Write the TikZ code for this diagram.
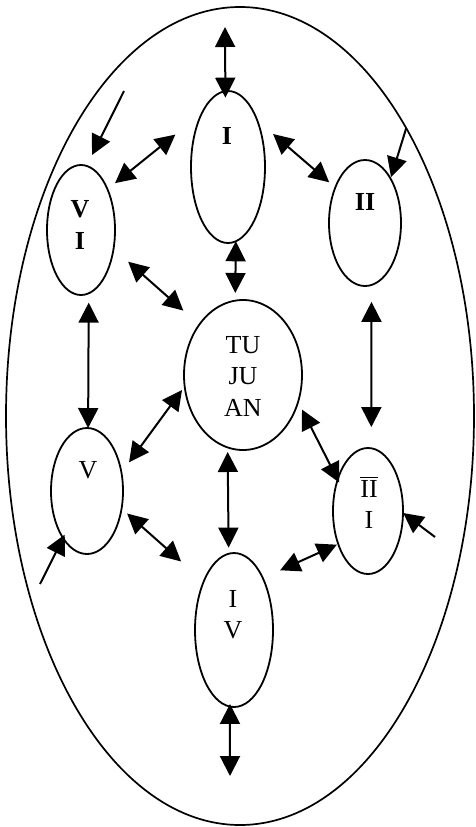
\documentclass[tikz,border=0pt]{standalone}
\usepackage{fontspec}
\setmainfont{Liberation Serif}
\usetikzlibrary{arrows.meta,shapes.geometric}
\begin{document}
\begin{tikzpicture}[x=1pt,y=-1pt,
  frame/.style={draw, ellipse, line width=1.7pt, inner sep=0pt, outer sep=0pt},
  part/.style={draw, ellipse, line width=1.8pt, inner sep=0pt, outer sep=0pt},
  tag/.style={inner sep=0pt, align=center, font=\fontsize{26}{31.5}\selectfont},
  tag bold/.style={tag, font=\fontsize{26}{31.5}\selectfont\bfseries},
  both ways/.style={line width=2pt, {Triangle[length=20pt,width=20pt]}-{Triangle[length=20pt,width=20pt]}},
  one way/.style={line width=2pt, -{Triangle[length=20pt,width=20pt]}},
]
\useasboundingbox (0,0) rectangle (476,827);
\fill[white] (0,0) rectangle (476,827);

% outer boundary
\node[frame, minimum width=468pt, minimum height=818pt] (O) at (240,416) {};

% the seven parts
\node[part, minimum width=74pt,  minimum height=152pt] (I)   at (228,167) {};
\node[part, minimum width=72pt,  minimum height=126pt] (II)  at (365,223) {};
\node[part, minimum width=70pt,  minimum height=126pt] (III) at (368,511) {};
\node[part, minimum width=78pt,  minimum height=154pt] (IV)  at (234,630) {};
\node[part, minimum width=72pt,  minimum height=126pt] (V)   at (87,491)  {};
\node[part, minimum width=68pt,  minimum height=130pt] (VI)  at (81,230)  {};
\node[part, minimum width=118pt, minimum height=150pt] (T)   at (243,375) {};

% labels
\node[tag bold] (I-t)   at (227,136) {I};
\node[tag bold] (II-t)  at (365,202) {II};
\node[tag bold] (VI-t)  at (80,225)  {V\\I};
\node[tag]      (T-t)   at (243,376) {TU\\JU\\AN};
\node[tag]      (V-t)   at (88,470.5) {V};
\node[tag]      (III-t) at (369,503) {\vbox{\hrule height 0.9pt\kern 2.5pt\hbox{II}}\\I};
\node[tag]      (IV-t)  at (233,614.5) {I\\V};

% free ends of the open arrows
\coordinate (top-end) at (225,27);
\coordinate (bot-end) at (230,776);
\coordinate (vi-in)   at (124,91);
\coordinate (iii-in)  at (435,537);
\coordinate (v-in)    at (40,584);

% connectors
\draw[both ways, shorten >=-6.5pt] (top-end) -- (I.92.3);
\draw[both ways, shorten >=7.7pt] (I.-84.6) -- (T.96);
\draw[both ways, shorten <=34pt, shorten >=9.7pt] (I.116.4) -- (VI.57.2);
\draw[both ways, shorten <=21pt, shorten >=8pt] (I.58.1) -- (II.130.8);
\draw[one way, shorten >=12.2pt] (vi-in) -- (VI.85.1);
\draw[one way, shorten >=1.5pt] (O.60) -- (II.60.2);
\draw[both ways, shorten <=19.5pt, shorten >=21.3pt] (VI.-30.4) -- (T.131.5);
\draw[both ways, shorten <=9.4pt] (VI.-83.7) -- (V.89.1);
\draw[both ways, shorten <=16.9pt, shorten >=21.2pt] (II.-84.5) -- (III.87.3);
\draw[both ways, shorten <=4.5pt, shorten >=12.85pt] (T.191.1) -- (V.28.5);
\draw[both ways, shorten <=8.6pt, shorten >=-3.25pt] (T.-26.4) -- (III.134.6);
\draw[both ways, shorten <=4.6pt, shorten >=6.1pt] (T.-102.1) -- (IV.94.9);
\draw[both ways, shorten <=7.4pt, shorten >=30.2pt] (V.-27.7) -- (IV.122.4);
\draw[both ways, shorten <=1.45pt, shorten >=19pt] (III.228.4) -- (IV.61.4);
\draw[one way, shorten >=0.3pt] (iii-in) -- (III.-3.4);
\draw[one way, shorten >=-3.8pt] (v-in) -- (V.243.4);
\draw[both ways, shorten <=-2.6pt] (IV.-93) -- (bot-end);
\end{tikzpicture}
\end{document}
